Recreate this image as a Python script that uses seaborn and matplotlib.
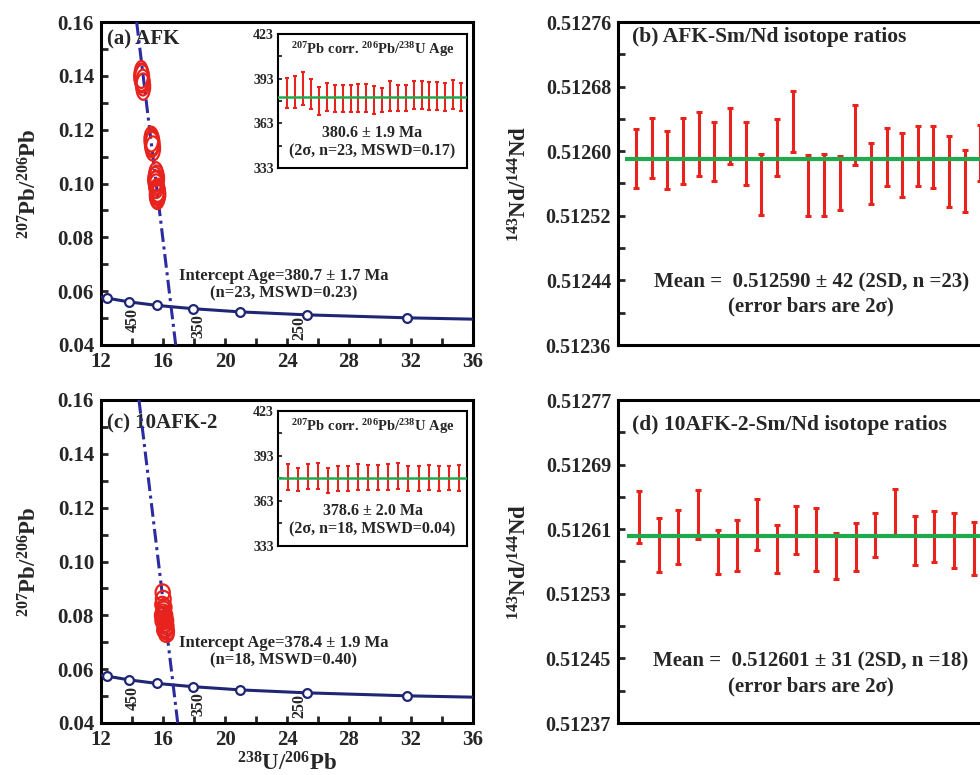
import matplotlib
matplotlib.use("Agg")
import matplotlib.pyplot as plt
import numpy as np
import pandas as pd
import seaborn as sns
from matplotlib.patches import Ellipse
from matplotlib.ticker import FixedLocator, MultipleLocator, FormatStrFormatter

# ---------------- data ----------------
# concordia (Tera-Wasserburg) age marks
conc_age = [500, 450, 400, 350, 300, 250, 200]
conc_u = [12.40, 13.83, 15.62, 17.92, 20.99, 25.29, 31.73]
conc_pb = [0.0574, 0.0560, 0.0547, 0.0535, 0.0523, 0.0512, 0.0501]
conc_line_u = [12.0, 12.40, 13.83, 15.62, 17.92, 20.99, 25.29, 31.73, 36.0]
conc_line_pb = [0.0579, 0.0574, 0.0560, 0.0547, 0.0535, 0.0523, 0.0512, 0.0501, 0.0496]
conc_labels = ["450", "350", "250"]
conc_label_u = [14.05, 18.26, 24.77]
conc_label_pb = [0.0493, 0.0472, 0.0462]

# (a) AFK spot ellipses: centre and 2-sigma half axes
afk_u = [14.60, 14.65, 14.70, 14.62, 14.72,
         15.25, 15.30, 15.28, 15.35, 15.32,
         15.55, 15.50, 15.58, 15.52, 15.60, 15.56,
         15.65, 15.60, 15.70, 15.62, 15.68, 15.64, 15.66]
afk_pb = [0.1405, 0.1390, 0.1375, 0.1395, 0.1360,
          0.1165, 0.1150, 0.1145, 0.1130, 0.1155,
          0.1035, 0.1015, 0.1005, 0.1000, 0.1020, 0.0990,
          0.0975, 0.0965, 0.0960, 0.0955, 0.0970, 0.0950, 0.0965]
afk_su = [0.44, 0.46, 0.43, 0.47, 0.45, 0.45, 0.47, 0.44, 0.46, 0.43,
          0.44, 0.46, 0.45, 0.43, 0.47, 0.45, 0.46, 0.44, 0.45, 0.47, 0.43, 0.46, 0.44]
afk_spb = [0.0050, 0.0052, 0.0048, 0.0051, 0.0049, 0.0046, 0.0048, 0.0047, 0.0045, 0.0049,
           0.0044, 0.0046, 0.0043, 0.0045, 0.0047, 0.0044, 0.0043, 0.0045, 0.0044, 0.0046,
           0.0042, 0.0045, 0.0044]
afk_disc_u = [14.30, 16.82]
afk_disc_pb = [0.160, 0.040]

# (c) 10AFK-2 spot ellipses
k2_u = [15.98, 16.02, 15.95, 16.08, 16.00, 16.12, 16.05, 15.98, 16.15,
        16.20, 16.10, 16.18, 16.25, 16.10, 16.22, 16.05, 16.20, 15.95]
k2_pb = [0.0885, 0.0860, 0.0840, 0.0830, 0.0810, 0.0800, 0.0790, 0.0780, 0.0770,
         0.0760, 0.0765, 0.0750, 0.0740, 0.0745, 0.0730, 0.0820, 0.0780, 0.0800]
k2_su = [0.46, 0.48, 0.45, 0.47, 0.46, 0.48, 0.45, 0.47, 0.46,
         0.48, 0.45, 0.47, 0.46, 0.48, 0.47, 0.45, 0.46, 0.47]
k2_spb = [0.0030, 0.0031, 0.0029, 0.0031, 0.0030, 0.0032, 0.0029, 0.0031, 0.0030,
          0.0031, 0.0029, 0.0030, 0.0031, 0.0030, 0.0029, 0.0031, 0.0030, 0.0031]
k2_disc_u = [14.45, 16.95]
k2_disc_pb = [0.160, 0.040]

# inset 207Pb-corrected 206Pb/238U ages (Ma) and 2-sigma errors
afk_age = [383.4, 384.0, 386.2, 382.9, 378.1, 380.6, 379.5, 379.5, 379.5, 379.9, 379.7, 378.7,
           378.7, 381.5, 380.1, 379.9, 381.9, 382.2, 381.5, 381.3, 380.7, 382.5, 380.6]
afk_age_err = [10.2, 10.6, 11.2, 10.1, 9.2, 9.4, 9.2, 9.2, 9.2, 9.4, 9.4, 9.3,
               8.2, 10.1, 8.9, 8.8, 9.6, 9.4, 9.4, 9.4, 9.3, 9.8, 9.4]
afk_age_mean = 380.6
k2_age = [379.0, 377.2, 379.6, 379.7, 376.7, 378.2, 378.2, 379.2, 378.6,
          378.6, 379.2, 379.8, 378.2, 377.8, 378.9, 378.2, 378.3, 378.3]
k2_age_err = [8.8, 7.7, 8.3, 8.4, 8.3, 8.3, 8.3, 8.6, 8.6,
              8.6, 8.6, 8.5, 8.3, 8.3, 8.3, 8.3, 8.2, 8.4]
k2_age_mean = 378.6

# 143Nd/144Nd ratios and 2-sigma errors
afk_nd = [0.512591, 0.512604, 0.512589, 0.512600, 0.512609, 0.512600, 0.512619, 0.512597,
          0.512559, 0.512605, 0.512637, 0.512557, 0.512558, 0.512561, 0.512620, 0.512572,
          0.512593, 0.512583, 0.512594, 0.512593, 0.512575, 0.512563, 0.512598]
afk_nd_err = [3.65e-5, 3.73e-5, 3.59e-5, 4.08e-5, 3.96e-5, 3.63e-5, 3.46e-5, 3.90e-5,
              3.81e-5, 3.51e-5, 3.77e-5, 3.77e-5, 3.86e-5, 3.32e-5, 3.71e-5, 3.79e-5,
              3.55e-5, 4.00e-5, 3.67e-5, 3.86e-5, 4.39e-5, 3.84e-5, 3.44e-5]
afk_nd_mean = 0.512590
k2_nd = [0.512625, 0.512590, 0.512600, 0.512628, 0.512582, 0.512590, 0.512616, 0.512585,
         0.512609, 0.512597, 0.512577, 0.512588, 0.512603, 0.512631, 0.512596, 0.512601,
         0.512596, 0.512586]
k2_nd_err = [3.26e-5, 3.36e-5, 3.36e-5, 3.01e-5, 2.72e-5, 3.20e-5, 3.20e-5, 2.97e-5,
             2.95e-5, 3.88e-5, 2.85e-5, 2.93e-5, 2.70e-5, 2.85e-5, 3.09e-5, 3.18e-5,
             3.42e-5, 3.28e-5]
k2_nd_mean = 0.512601

NAVY = "#1f2674"
DISC = "#2c2ca0"
RED = "#e8221c"
GREEN = "#1faa4e"

sns.set_theme(style="ticks")
plt.rcParams["font.family"] = ["Liberation Serif", "DejaVu Serif"]
plt.rcParams["font.weight"] = "bold"
plt.rcParams["axes.labelweight"] = "bold"
plt.rcParams["mathtext.fontset"] = "custom"
plt.rcParams["mathtext.rm"] = "Liberation Serif:bold"
plt.rcParams["mathtext.bf"] = "Liberation Serif:bold"
plt.rcParams["mathtext.it"] = "Liberation Serif:bold:italic"
plt.rcParams["axes.linewidth"] = 2.2
plt.rcParams["axes.edgecolor"] = "black"
plt.rcParams["xtick.direction"] = "in"
plt.rcParams["ytick.direction"] = "in"

W, H = 980, 775


def px_axes(fig, left, top, right, bottom):
    return fig.add_axes([left / W, 1 - bottom / H, (right - left) / W, (bottom - top) / H])


def concordia_panel(ax, u, pb, su, spb, disc_u, disc_pb, label, label_y, intercept, icpt_y, xlabel):
    sns.lineplot(x=conc_line_u, y=conc_line_pb, ax=ax, color=NAVY, lw=2.2, sort=False, zorder=3)
    sns.scatterplot(x=conc_u, y=conc_pb, ax=ax, s=40, color="white", edgecolor=NAVY,
                    linewidth=1.6, zorder=4)
    for t, x, y in zip(conc_labels, conc_label_u, conc_label_pb):
        ax.text(x, y, t, rotation=90, ha="center", va="center", fontsize=11.5)
    sns.lineplot(x=disc_u, y=disc_pb, ax=ax, color=DISC, lw=2.2, sort=False,
                 linestyle=(0, (4.5, 1.5, 1, 1.5)), zorder=5)
    for x, y, a, b in zip(u, pb, su, spb):
        ax.add_patch(Ellipse((x, y), 2 * a, 2 * b, fill=False, edgecolor=RED, lw=1.6, zorder=6))
    ax.set_xlim(12, 36)
    ax.set_ylim(0.04, 0.16)
    ax.xaxis.set_major_locator(MultipleLocator(4))
    ax.xaxis.set_minor_locator(MultipleLocator(2))
    ax.yaxis.set_major_locator(MultipleLocator(0.02))
    ax.yaxis.set_minor_locator(MultipleLocator(0.01))
    ax.yaxis.set_major_formatter(FormatStrFormatter("%.2f"))
    ax.tick_params(which="both", length=5, width=2, labelsize=15, pad=5)
    ax.set_ylabel(r"$^{207}$Pb/$^{206}$Pb", fontsize=16.5, labelpad=12)
    if xlabel:
        ax.set_xlabel(r"$^{238}$U/$^{206}$Pb", fontsize=16.5, labelpad=2)
    ax.text(0.016, label_y, label, transform=ax.transAxes, ha="left", va="center", fontsize=15)
    ax.text(0.49, icpt_y, intercept, transform=ax.transAxes, ha="center", va="center",
            fontsize=12, linespacing=1.15)


def age_inset(ax, ages, errs, mean, stats):
    n = len(ages)
    pos = list(range(1, n + 1))
    ax.errorbar(pos, ages, yerr=errs, fmt="none", ecolor=RED, elinewidth=1.5,
                capsize=1.6, capthick=1.5, zorder=3)
    ax.axhline(mean, color=GREEN, lw=1.8, zorder=4)
    ax.set_xlim(1 - (n + 1) * 0.05, n + 1 - (n + 1) * 0.01)
    ax.set_ylim(333, 423)
    ax.set_xticks([])
    ax.yaxis.set_major_locator(FixedLocator([333, 363, 393, 423]))
    ax.yaxis.set_minor_locator(FixedLocator([348, 378, 408]))
    ax.tick_params(which="both", length=3, width=1.3, labelsize=10, pad=3)
    for s in ax.spines.values():
        s.set_linewidth(1.5)
    ax.text(0.5, 0.885, r"$^{207}$Pb corr. $^{206}$Pb/$^{238}$U Age", transform=ax.transAxes,
            ha="center", va="center", fontsize=10.5)
    ax.text(0.5, 0.262, f"{mean:.1f} ± {stats[0]} Ma", transform=ax.transAxes,
            ha="center", va="center", fontsize=11.5)
    ax.text(0.5, 0.121, stats[1], transform=ax.transAxes, ha="center", va="center", fontsize=11.5)


def nd_panel(ax, ratios, errs, mean, lo, title, title_y, mean_txt, mean_y, note_y, start):
    n = len(ratios)
    df = pd.DataFrame({"spot": range(1, n + 1), "nd": ratios, "err": errs})
    ax.errorbar(df.spot, df.nd, yerr=df.err, fmt="none", ecolor=RED, elinewidth=2.2,
                capsize=2.3, capthick=2.2, zorder=3)
    ax.hlines(mean, start + 0.45, n + 2, color=GREEN, lw=3, zorder=4)
    ax.set_xlim(start, start + 24 * (n + 1) / 24.0 * (0.99 if n > 20 else 0.995))
    ax.set_ylim(lo, lo + 0.00040)
    ax.set_xticks([])
    ax.yaxis.set_major_locator(FixedLocator([lo + k * 0.00008 for k in range(6)]))
    ax.yaxis.set_minor_locator(FixedLocator([lo + 0.00004 + k * 0.00008 for k in range(5)]))
    ax.yaxis.set_major_formatter(FormatStrFormatter("%.5f"))
    ax.tick_params(which="both", length=5, width=2, labelsize=14.5, pad=5)
    ax.set_ylabel(r"$^{143}$Nd/$^{144}$Nd", fontsize=16.5, labelpad=10)
    ax.text(0.037, title_y, title, transform=ax.transAxes, ha="left", va="center", fontsize=15.5)
    ax.text(0.519, mean_y, mean_txt, transform=ax.transAxes, ha="center", va="center", fontsize=15)
    ax.text(0.519, note_y, "(error bars are 2σ)", transform=ax.transAxes,
            ha="center", va="center", fontsize=15)


fig = plt.figure(figsize=(W / 100, H / 100), dpi=100)
fig.patch.set_facecolor("white")

ax_a = px_axes(fig, 101, 22, 473, 345)
ax_b = px_axes(fig, 618, 22, 990, 345)
ax_c = px_axes(fig, 101, 400, 473, 723)
ax_d = px_axes(fig, 618, 400, 990, 723)

concordia_panel(ax_a, afk_u, afk_pb, afk_su, afk_spb, afk_disc_u, afk_disc_pb,
                "(a) AFK", 0.947, "Intercept Age=380.7 ± 1.7 Ma\n(n=23, MSWD=0.23)", 0.187, False)
concordia_panel(ax_c, k2_u, k2_pb, k2_su, k2_spb, k2_disc_u, k2_disc_pb,
                "(c) 10AFK-2", 0.926, "Intercept Age=378.4 ± 1.9 Ma\n(n=18, MSWD=0.40)", 0.221, True)

in_a = px_axes(fig, 278, 34, 467, 168)
in_c = px_axes(fig, 278, 411, 467, 546)
age_inset(in_a, afk_age, afk_age_err, afk_age_mean, ("1.9", "(2σ, n=23, MSWD=0.17)"))
age_inset(in_c, k2_age, k2_age_err, k2_age_mean, ("2.0", "(2σ, n=18, MSWD=0.04)"))

nd_panel(ax_b, afk_nd, afk_nd_err, afk_nd_mean, 0.51236, "(b) AFK-Sm/Nd isotope ratios", 0.954,
         "Mean =  0.512590 ± 42 (2SD, n =23)", 0.192, 0.119, -0.15)
nd_panel(ax_d, k2_nd, k2_nd_err, k2_nd_mean, 0.51237, "(d) 10AFK-2-Sm/Nd isotope ratios", 0.923,
         "Mean =  0.512601 ± 31 (2SD, n =18)", 0.190, 0.112, -0.07)

fig.savefig("out.png", dpi=100, facecolor="white")
